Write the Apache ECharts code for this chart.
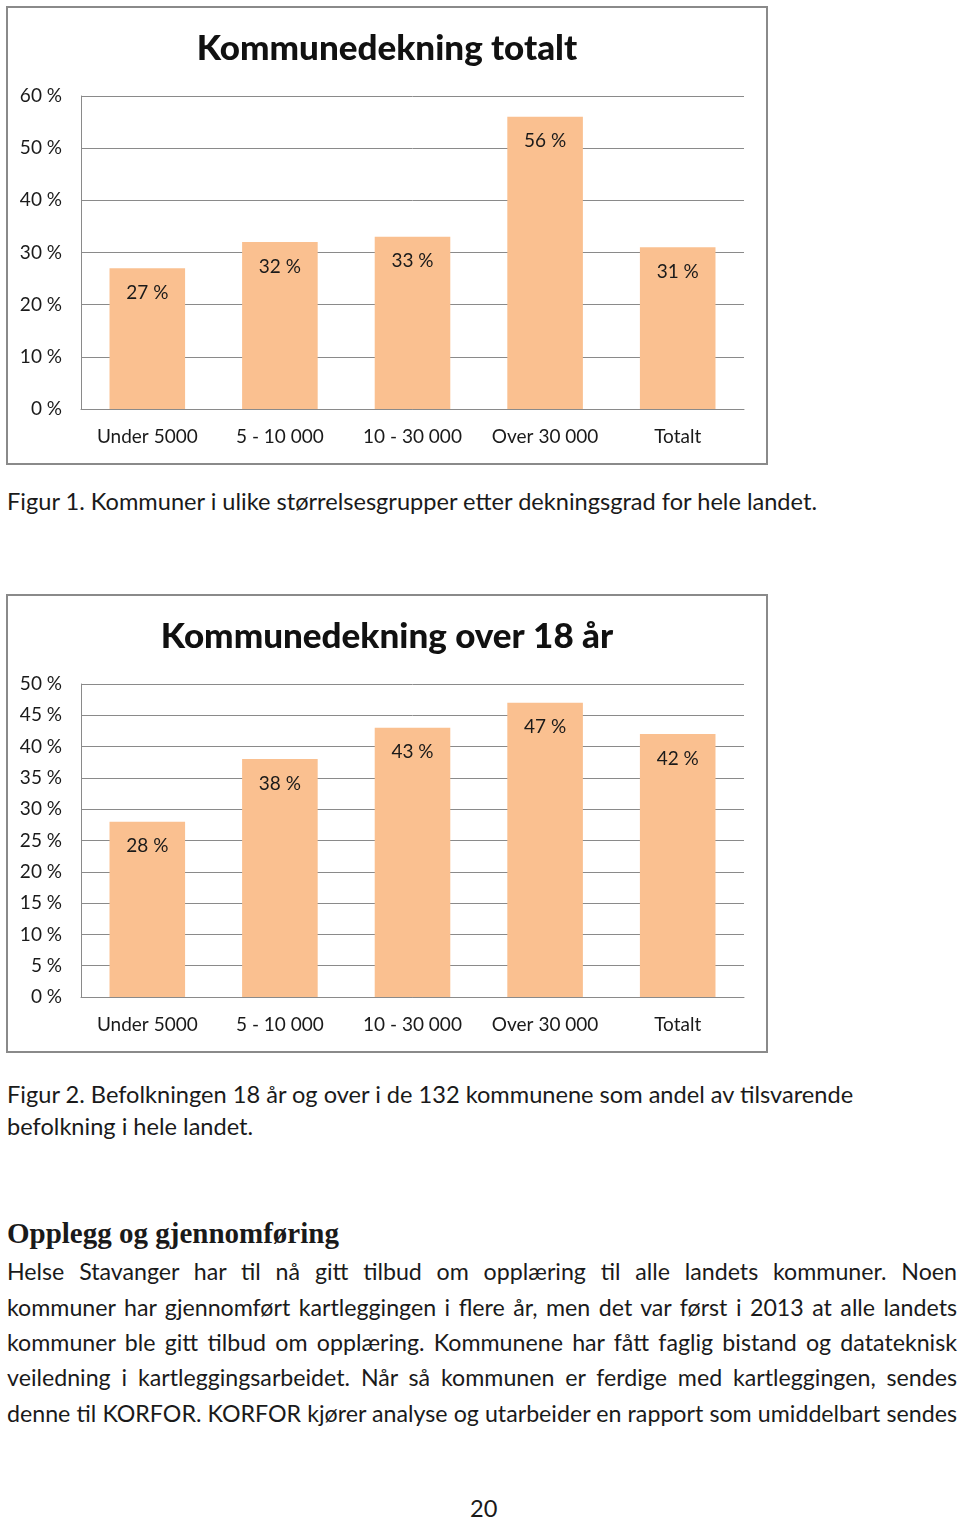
<!DOCTYPE html>
<html>
<head>
<meta charset="utf-8">
<script src="https://cdn.jsdelivr.net/npm/echarts@6/dist/echarts.min.js"></script>
<style>
  html, body { margin: 0; padding: 0; background: #fff; }
  body { width: 960px; height: 1519px; position: relative; overflow: hidden; font-family: Lato, "Open Sans", sans-serif; color: #1a1a1a; }
  .frame { position: absolute; box-sizing: border-box; border: 2px solid #8a8a8a; background: #fff; }
  .txt { position: absolute; left: 7px; font-size: 23.6px; white-space: nowrap; }
  .just { position: absolute; left: 7px; width: 950px; font-size: 23.2px; text-align: justify; text-align-last: justify; white-space: nowrap; }
  h2 { position: absolute; left: 7px; top: 1217px; margin: 0; font-family: "Liberation Serif", "DejaVu Serif", serif; font-weight: bold; font-size: 29px; }
</style>
</head>
<body>
<div id="c1" class="frame" style="left:6px;top:6px;width:762px;height:459px;"></div>
<div class="txt" style="top:487px;">Figur 1. Kommuner i ulike størrelsesgrupper etter dekningsgrad for hele landet.</div>
<div id="c2" class="frame" style="left:6px;top:594px;width:762px;height:459px;"></div>
<div class="txt" style="top:1080px;">Figur 2. Befolkningen 18 år og over i de 132 kommunene som andel av tilsvarende</div>
<div class="txt" style="top:1112px;">befolkning i hele landet.</div>
<h2>Opplegg og gjennomføring</h2>
<div class="just" style="top:1257px;">Helse Stavanger har til nå gitt tilbud om opplæring til alle landets kommuner. Noen</div>
<div class="just" style="top:1293px;">kommuner har gjennomført kartleggingen i flere år, men det var først i 2013 at alle landets</div>
<div class="just" style="top:1328px;">kommuner ble gitt tilbud om opplæring. Kommunene har fått faglig bistand og datateknisk</div>
<div class="just" style="top:1363px;">veiledning i kartleggingsarbeidet. Når så kommunen er ferdige med kartleggingen, sendes</div>
<div class="just" style="top:1399px;">denne til KORFOR. KORFOR kjører analyse og utarbeider en rapport som umiddelbart sendes</div>
<div class="txt" style="top:1494px;left:470px;">20</div>
<script>
const categories = ['Under 5000', '5 - 10 000', '10 - 30 000', 'Over 30 000', 'Totalt'];
const title1 = 'Kommunedekning totalt';
const values1 = [27, 32, 33, 56, 31];
const title2 = 'Kommunedekning over 18 år';
const values2 = [28, 38, 43, 47, 42];

function makeOption(title, values, max, interval) {
  return {
    animation: false,
    textStyle: { fontFamily: 'Lato' },
    title: {
      text: title, left: 'center', top: 18,
      textStyle: { fontFamily: 'Lato', fontWeight: 900, fontSize: 35, color: '#111' }
    },
    grid: { left: 73, right: 22, top: 88, bottom: 54 },
    xAxis: {
      type: 'category', data: categories,
      axisLine: { lineStyle: { color: '#8a8a8a', width: 1 } },
      axisTick: { show: false },
      axisLabel: { color: '#1a1a1a', fontSize: 19, margin: 18, interval: 0 }
    },
    yAxis: {
      type: 'value', min: 0, max: max, interval: interval,
      axisLine: { show: true, lineStyle: { color: '#8a8a8a', width: 1 } },
      axisTick: { show: false },
      splitLine: { lineStyle: { color: '#8a8a8a', width: 1 } },
      axisLabel: { color: '#1a1a1a', fontSize: 19, margin: 19, formatter: v => v + ' %' }
    },
    series: [{
      type: 'bar', data: values, barWidth: '57%',
      itemStyle: { color: '#FAC090' },
      label: {
        show: true, position: 'insideTop', distance: 15,
        color: '#1a1a1a', fontSize: 19, formatter: p => p.value + ' %'
      }
    }]
  };
}

const ch1 = echarts.init(document.getElementById('c1'), null, { renderer: 'canvas' });
ch1.setOption(makeOption(title1, values1, 60, 10));
const ch2 = echarts.init(document.getElementById('c2'), null, { renderer: 'canvas' });
ch2.setOption(makeOption(title2, values2, 50, 5));
</script>
</body>
</html>
